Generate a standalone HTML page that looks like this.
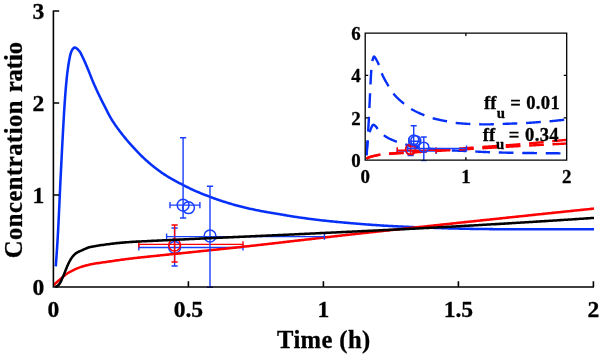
<!DOCTYPE html>
<html><head><meta charset="utf-8"><title>Chart</title>
<style>html,body{margin:0;padding:0;background:#fff;width:600px;height:356px;overflow:hidden}</style></head>
<body>
<svg width="600" height="356" viewBox="0 0 600 356" style="display:block;position:absolute;left:0;top:0;will-change:transform">
<rect width="600" height="356" fill="#fff"/>
<defs><clipPath id="mc"><rect x="53" y="5" width="545" height="283"/></clipPath><clipPath id="ic"><rect x="365" y="33" width="201.8" height="128.2"/></clipPath></defs>
<g clip-path="url(#mc)">
<path d="M55.80,266.30 L55.87,265.28 L55.95,264.26 L56.02,263.24 L56.09,262.22 L56.16,261.20 L56.24,260.18 L56.31,259.16 L56.38,258.14 L56.45,257.12 L56.52,256.10 L56.59,255.08 L56.66,254.06 L56.73,253.04 L56.80,252.02 L56.87,251.00 L56.94,249.98 L57.00,248.96 L57.07,247.94 L57.14,246.92 L57.20,245.90 L57.27,244.88 L57.33,243.86 L57.39,242.84 L57.46,241.82 L57.52,240.80 L57.58,239.78 L57.64,238.75 L57.70,237.73 L57.76,236.71 L57.82,235.69 L57.87,234.67 L57.93,233.65 L57.99,232.63 L58.04,231.61 L58.10,230.59 L58.15,229.57 L58.21,228.55 L58.26,227.53 L58.31,226.50 L58.36,225.48 L58.42,224.46 L58.47,223.44 L58.52,222.42 L58.57,221.40 L58.62,220.38 L58.67,219.36 L58.72,218.34 L58.77,217.31 L58.82,216.29 L58.86,215.27 L58.91,214.25 L58.96,213.23 L59.01,212.21 L59.06,211.19 L59.10,210.16 L59.15,209.14 L59.20,208.12 L59.24,207.10 L59.29,206.08 L59.34,205.06 L59.38,204.04 L59.43,203.01 L59.48,201.99 L59.52,200.97 L59.57,199.95 L59.62,198.93 L59.66,197.91 L59.71,196.89 L59.75,195.86 L59.80,194.84 L59.85,193.82 L59.89,192.80 L59.94,191.78 L59.99,190.76 L60.04,189.74 L60.08,188.71 L60.13,187.69 L60.18,186.67 L60.23,185.65 L60.28,184.63 L60.33,183.61 L60.37,182.59 L60.42,181.56 L60.47,180.54 L60.52,179.52 L60.57,178.50 L60.63,177.48 L60.68,176.46 L60.73,175.44 L60.78,174.42 L60.83,173.40 L60.88,172.37 L60.93,171.35 L60.98,170.33 L61.03,169.31 L61.09,168.29 L61.14,167.27 L61.19,166.25 L61.24,165.23 L61.29,164.20 L61.34,163.18 L61.39,162.16 L61.44,161.14 L61.50,160.12 L61.55,159.10 L61.60,158.08 L61.65,157.06 L61.70,156.04 L61.75,155.01 L61.81,153.99 L61.86,152.97 L61.91,151.95 L61.96,150.93 L62.02,149.91 L62.07,148.89 L62.12,147.87 L62.18,146.85 L62.23,145.82 L62.28,144.80 L62.34,143.78 L62.39,142.76 L62.44,141.74 L62.50,140.72 L62.55,139.70 L62.61,138.68 L62.66,137.66 L62.72,136.64 L62.77,135.61 L62.83,134.59 L62.89,133.57 L62.94,132.55 L63.00,131.53 L63.05,130.51 L63.11,129.49 L63.17,128.47 L63.23,127.45 L63.28,126.43 L63.34,125.41 L63.40,124.38 L63.45,123.36 L63.51,122.34 L63.57,121.32 L63.63,120.30 L63.69,119.28 L63.75,118.26 L63.80,117.24 L63.86,116.22 L63.92,115.20 L63.99,114.18 L64.05,113.16 L64.11,112.13 L64.17,111.11 L64.23,110.09 L64.30,109.07 L64.36,108.05 L64.43,107.03 L64.50,106.01 L64.56,104.99 L64.63,103.97 L64.70,102.95 L64.77,101.93 L64.84,100.91 L64.92,99.89 L64.99,98.87 L65.06,97.85 L65.13,96.83 L65.21,95.81 L65.28,94.79 L65.36,93.77 L65.44,92.75 L65.52,91.73 L65.60,90.71 L65.68,89.69 L65.76,88.67 L65.85,87.65 L65.94,86.64 L66.03,85.62 L66.12,84.60 L66.21,83.58 L66.31,82.56 L66.41,81.55 L66.51,80.53 L66.61,79.51 L66.72,78.50 L66.82,77.48 L66.93,76.46 L67.04,75.44 L67.16,74.43 L67.28,73.41 L67.40,72.39 L67.53,71.37 L67.66,70.36 L67.79,69.34 L67.93,68.33 L68.07,67.31 L68.22,66.30 L68.37,65.29 L68.53,64.28 L68.69,63.28 L68.86,62.27 L69.03,61.27 L69.21,60.26 L69.40,59.24 L69.59,58.20 L69.79,57.16 L70.01,56.13 L70.24,55.11 L70.50,54.11 L70.79,53.13 L71.11,52.20 L71.47,51.30 L71.89,50.40 L72.49,49.39 L73.21,48.44 L73.99,47.75 L74.76,47.50 L75.58,47.74 L76.49,48.28 L77.38,49.01 L78.20,49.79 L78.88,50.51 L79.48,51.27 L80.04,52.10 L80.56,52.97 L81.06,53.89 L81.53,54.84 L81.99,55.79 L82.44,56.74 L82.89,57.68 L83.34,58.60 L83.79,59.52 L84.22,60.44 L84.63,61.37 L85.05,62.31 L85.45,63.25 L85.85,64.19 L86.25,65.14 L86.64,66.08 L87.03,67.03 L87.43,67.97 L87.82,68.92 L88.21,69.86 L88.60,70.81 L88.98,71.76 L89.36,72.71 L89.73,73.66 L90.11,74.61 L90.48,75.56 L90.86,76.51 L91.24,77.46 L91.62,78.41 L92.00,79.36 L92.39,80.31 L92.78,81.25 L93.18,82.19 L93.59,83.13 L93.99,84.07 L94.40,85.00 L94.82,85.94 L95.23,86.87 L95.65,87.81 L96.07,88.74 L96.50,89.67 L96.92,90.60 L97.35,91.53 L97.79,92.45 L98.22,93.38 L98.66,94.30 L99.10,95.22 L99.54,96.14 L99.99,97.06 L100.44,97.98 L100.90,98.90 L101.35,99.81 L101.81,100.72 L102.28,101.64 L102.74,102.55 L103.20,103.46 L103.67,104.37 L104.13,105.28 L104.60,106.19 L105.06,107.10 L105.52,108.02 L105.98,108.94 L106.44,109.85 L106.90,110.77 L107.36,111.69 L107.82,112.60 L108.29,113.51 L108.77,114.41 L109.25,115.32 L109.74,116.21 L110.24,117.10 L110.75,117.98 L111.27,118.85 L111.80,119.72 L112.34,120.58 L112.89,121.44 L113.45,122.30 L114.02,123.15 L114.59,124.00 L115.17,124.85 L115.76,125.69 L116.35,126.52 L116.94,127.36 L117.55,128.19 L118.15,129.02 L118.76,129.84 L119.38,130.66 L119.99,131.48 L120.61,132.29 L121.23,133.11 L121.86,133.91 L122.48,134.72 L123.11,135.52 L123.75,136.32 L124.40,137.11 L125.04,137.90 L125.70,138.69 L126.36,139.47 L127.02,140.25 L127.69,141.03 L128.36,141.80 L129.04,142.57 L129.71,143.34 L130.39,144.10 L131.08,144.87 L131.76,145.63 L132.45,146.38 L133.13,147.14 L133.82,147.89 L134.52,148.64 L135.21,149.39 L135.91,150.14 L136.61,150.89 L137.31,151.63 L138.02,152.37 L138.73,153.11 L139.45,153.84 L140.17,154.57 L140.89,155.30 L141.62,156.02 L142.35,156.73 L143.08,157.44 L143.82,158.14 L144.57,158.84 L145.32,159.53 L146.07,160.22 L146.83,160.90 L147.60,161.58 L148.37,162.26 L149.14,162.93 L149.92,163.59 L150.70,164.25 L151.49,164.91 L152.28,165.56 L153.08,166.20 L153.88,166.84 L154.68,167.47 L155.48,168.10 L156.29,168.72 L157.11,169.33 L157.93,169.95 L158.75,170.55 L159.58,171.15 L160.42,171.75 L161.25,172.34 L162.10,172.93 L162.94,173.50 L163.79,174.07 L164.64,174.64 L165.50,175.19 L166.36,175.74 L167.23,176.28 L168.10,176.81 L168.98,177.33 L169.86,177.84 L170.75,178.35 L171.64,178.85 L172.54,179.35 L173.43,179.84 L174.33,180.33 L175.23,180.82 L176.13,181.31 L177.03,181.80 L177.93,182.29 L178.83,182.77 L179.73,183.26 L180.63,183.74 L181.54,184.21 L182.44,184.69 L183.35,185.16 L184.26,185.62 L185.17,186.09 L186.08,186.55 L187.00,187.01 L187.91,187.47 L188.83,187.92 L189.75,188.37 L190.67,188.82 L191.59,189.26 L192.51,189.69 L193.44,190.12 L194.37,190.54 L195.31,190.95 L196.25,191.36 L197.19,191.76 L198.13,192.16 L199.08,192.55 L200.02,192.94 L200.97,193.32 L201.92,193.71 L202.87,194.09 L203.82,194.46 L204.77,194.83 L205.73,195.19 L206.68,195.55 L207.64,195.92 L208.60,196.27 L209.56,196.63 L210.51,196.99 L211.47,197.35 L212.43,197.72 L213.38,198.08 L214.34,198.43 L215.30,198.79 L216.26,199.14 L217.22,199.49 L218.19,199.82 L219.15,200.15 L220.12,200.48 L221.10,200.79 L222.07,201.11 L223.04,201.42 L224.02,201.72 L225.00,202.02 L225.98,202.32 L226.95,202.62 L227.93,202.92 L228.91,203.22 L229.89,203.52 L230.86,203.82 L231.84,204.11 L232.82,204.40 L233.81,204.69 L234.79,204.97 L235.77,205.25 L236.76,205.52 L237.74,205.79 L238.73,206.06 L239.72,206.32 L240.71,206.58 L241.70,206.83 L242.69,207.08 L243.68,207.32 L244.68,207.56 L245.67,207.80 L246.67,208.03 L247.67,208.25 L248.67,208.47 L249.66,208.69 L250.66,208.91 L251.66,209.12 L252.66,209.33 L253.66,209.55 L254.67,209.76 L255.67,209.96 L256.67,210.17 L257.67,210.37 L258.67,210.57 L259.68,210.77 L260.68,210.96 L261.69,211.15 L262.69,211.33 L263.70,211.52 L264.70,211.70 L265.71,211.87 L266.72,212.05 L267.73,212.23 L268.73,212.40 L269.74,212.58 L270.75,212.75 L271.76,212.92 L272.76,213.09 L273.77,213.26 L274.78,213.43 L275.79,213.60 L276.80,213.77 L277.81,213.93 L278.81,214.10 L279.82,214.27 L280.83,214.44 L281.84,214.61 L282.85,214.78 L283.86,214.96 L284.86,215.13 L285.87,215.30 L286.88,215.47 L287.89,215.64 L288.90,215.81 L289.90,215.98 L290.91,216.15 L291.92,216.32 L292.93,216.48 L293.94,216.64 L294.95,216.79 L295.96,216.95 L296.97,217.10 L297.98,217.25 L299.00,217.39 L300.01,217.54 L301.02,217.68 L302.03,217.83 L303.05,217.97 L304.06,218.11 L305.07,218.25 L306.09,218.38 L307.10,218.52 L308.11,218.65 L309.13,218.79 L310.14,218.92 L311.15,219.05 L312.17,219.18 L313.18,219.31 L314.20,219.43 L315.21,219.56 L316.23,219.68 L317.24,219.81 L318.26,219.93 L319.27,220.05 L320.29,220.17 L321.30,220.29 L322.32,220.40 L323.34,220.52 L324.35,220.63 L325.37,220.74 L326.38,220.85 L327.40,220.96 L328.42,221.06 L329.44,221.17 L330.45,221.27 L331.47,221.38 L332.49,221.48 L333.50,221.58 L334.52,221.68 L335.54,221.78 L336.56,221.88 L337.58,221.97 L338.59,222.07 L339.61,222.16 L340.63,222.26 L341.65,222.35 L342.67,222.44 L343.68,222.53 L344.70,222.62 L345.72,222.71 L346.74,222.80 L347.76,222.89 L348.78,222.98 L349.80,223.06 L350.82,223.15 L351.83,223.24 L352.85,223.32 L353.87,223.41 L354.89,223.49 L355.91,223.58 L356.93,223.66 L357.95,223.75 L358.97,223.83 L359.99,223.91 L361.01,224.00 L362.02,224.08 L363.04,224.16 L364.06,224.25 L365.08,224.33 L366.10,224.41 L367.12,224.48 L368.14,224.56 L369.16,224.64 L370.18,224.71 L371.20,224.79 L372.22,224.86 L373.24,224.93 L374.26,225.00 L375.28,225.07 L376.30,225.14 L377.32,225.21 L378.34,225.28 L379.36,225.35 L380.38,225.41 L381.40,225.48 L382.42,225.54 L383.44,225.61 L384.46,225.67 L385.48,225.73 L386.50,225.79 L387.52,225.85 L388.54,225.90 L389.57,225.96 L390.59,226.02 L391.61,226.07 L392.63,226.12 L393.65,226.18 L394.67,226.23 L395.69,226.28 L396.71,226.34 L397.73,226.39 L398.76,226.44 L399.78,226.49 L400.80,226.54 L401.82,226.59 L402.84,226.64 L403.86,226.69 L404.88,226.74 L405.90,226.79 L406.93,226.84 L407.95,226.89 L408.97,226.94 L409.99,226.99 L411.01,227.03 L412.03,227.08 L413.05,227.12 L414.08,227.16 L415.10,227.20 L416.12,227.24 L417.14,227.28 L418.16,227.32 L419.18,227.35 L420.21,227.38 L421.23,227.42 L422.25,227.45 L423.27,227.48 L424.29,227.52 L425.32,227.55 L426.34,227.58 L427.36,227.61 L428.38,227.65 L429.40,227.68 L430.43,227.71 L431.45,227.75 L432.47,227.79 L433.49,227.82 L434.51,227.86 L435.53,227.90 L436.56,227.94 L437.58,227.98 L438.60,228.02 L439.62,228.06 L440.64,228.09 L441.67,228.13 L442.69,228.17 L443.71,228.21 L444.73,228.24 L445.75,228.27 L446.77,228.31 L447.80,228.34 L448.82,228.37 L449.84,228.40 L450.86,228.42 L451.88,228.45 L452.91,228.47 L453.93,228.50 L454.95,228.53 L455.97,228.55 L457.00,228.58 L458.02,228.60 L459.04,228.62 L460.06,228.65 L461.08,228.67 L462.11,228.69 L463.13,228.72 L464.15,228.74 L465.17,228.76 L466.20,228.78 L467.22,228.80 L468.24,228.82 L469.26,228.84 L470.28,228.86 L471.31,228.88 L472.33,228.89 L473.35,228.91 L474.37,228.93 L475.40,228.94 L476.42,228.96 L477.44,228.97 L478.46,228.98 L479.49,228.99 L480.51,229.01 L481.53,229.02 L482.55,229.03 L483.58,229.04 L484.60,229.05 L485.62,229.06 L486.64,229.07 L487.66,229.08 L488.69,229.10 L489.71,229.11 L490.73,229.12 L491.75,229.13 L492.78,229.14 L493.80,229.15 L494.82,229.16 L495.84,229.17 L496.87,229.18 L497.89,229.19 L498.91,229.20 L499.93,229.21 L500.96,229.21 L501.98,229.22 L503.00,229.23 L504.02,229.24 L505.05,229.24 L506.07,229.25 L507.09,229.26 L508.11,229.26 L509.14,229.27 L510.16,229.27 L511.18,229.28 L512.20,229.28 L513.23,229.29 L514.25,229.29 L515.27,229.29 L516.29,229.30 L517.32,229.30 L518.34,229.30 L519.36,229.30 L520.38,229.30 L521.41,229.30 L522.43,229.30 L523.45,229.30 L524.47,229.30 L525.50,229.30 L526.52,229.30 L527.54,229.30 L528.56,229.30 L529.58,229.30 L530.61,229.30 L531.63,229.30 L532.65,229.30 L533.67,229.30 L534.70,229.30 L535.72,229.30 L536.74,229.30 L537.76,229.30 L538.79,229.30 L539.81,229.30 L540.83,229.30 L541.85,229.30 L542.88,229.30 L543.90,229.30 L544.92,229.30 L545.94,229.30 L546.97,229.30 L547.99,229.30 L549.01,229.30 L550.03,229.30 L551.06,229.30 L552.08,229.30 L553.10,229.30 L554.12,229.30 L555.15,229.30 L556.17,229.30 L557.19,229.30 L558.21,229.30 L559.24,229.30 L560.26,229.30 L561.28,229.30 L562.30,229.30 L563.33,229.30 L564.35,229.30 L565.37,229.30 L566.39,229.30 L567.42,229.30 L568.44,229.30 L569.46,229.30 L570.48,229.30 L571.51,229.30 L572.53,229.30 L573.55,229.30 L574.57,229.30 L575.60,229.30 L576.62,229.30 L577.64,229.30 L578.66,229.30 L579.69,229.30 L580.71,229.30 L581.73,229.30 L582.75,229.30 L583.78,229.30 L584.80,229.30 L585.82,229.30 L586.84,229.30 L587.87,229.30 L588.89,229.30 L589.91,229.30 L590.93,229.30 L591.96,229.30 L592.98,229.30 L594.00,229.30" fill="none" stroke="#0630f8" stroke-width="2.55" stroke-linejoin="round"/>
<g stroke="#1a40ff" stroke-width="1.4" fill="none"><path d="M138.8,247.5 H243 M138.8,244.4 V250.6 M243,244.4 V250.6"/><path d="M174.6,228 V266 M171.5,228 H177.7 M171.5,266 H177.7"/><circle cx="174.6" cy="247.4" r="5.9" stroke-width="1.5"/></g>
<g stroke="#ff0000" stroke-width="1.4" fill="none"><path d="M138.8,244.4 H243 M138.8,241.3 V247.5 M243,241.3 V247.5"/><path d="M174.6,225 V262 M171.5,225 H177.7 M171.5,262 H177.7"/><circle cx="174.6" cy="245" r="5.9" stroke-width="1.5"/></g>
<path d="M53.30,285.50 L54.26,284.51 L55.25,283.56 L56.28,282.63 L57.32,281.73 L58.37,280.84 L59.42,279.94 L60.45,279.02 L61.48,278.11 L62.53,277.21 L63.59,276.33 L64.66,275.46 L65.75,274.60 L66.85,273.77 L67.99,273.01 L69.17,272.31 L70.39,271.66 L71.63,271.03 L72.86,270.42 L74.10,269.81 L75.34,269.21 L76.60,268.63 L77.86,268.09 L79.15,267.60 L80.45,267.13 L81.76,266.69 L83.07,266.28 L84.40,265.90 L85.73,265.55 L87.07,265.21 L88.41,264.90 L89.76,264.60 L91.10,264.32 L92.46,264.04 L93.81,263.79 L95.17,263.55 L96.53,263.33 L97.89,263.13 L99.26,262.93 L100.62,262.74 L101.99,262.55 L103.36,262.36 L104.72,262.17 L106.09,261.97 L107.45,261.77 L108.82,261.57 L110.18,261.37 L111.54,261.17 L112.91,260.96 L114.27,260.76 L115.64,260.57 L117.00,260.37 L118.37,260.18 L119.73,259.99 L121.10,259.81 L122.46,259.62 L123.83,259.44 L125.20,259.27 L126.57,259.09 L127.93,258.91 L129.30,258.74 L130.67,258.57 L132.04,258.41 L133.41,258.24 L134.78,258.08 L136.15,257.93 L137.52,257.77 L138.89,257.62 L140.26,257.48 L141.63,257.33 L143.00,257.19 L144.37,257.05 L145.74,256.91 L147.12,256.77 L148.49,256.63 L149.86,256.48 L151.23,256.34 L152.60,256.20 L153.97,256.05 L155.34,255.91 L156.72,255.77 L158.09,255.63 L159.46,255.48 L160.83,255.34 L162.20,255.20 L163.57,255.06 L164.94,254.92 L166.32,254.78 L167.69,254.64 L169.06,254.49 L170.43,254.35 L171.80,254.21 L173.17,254.07 L174.55,253.93 L175.92,253.79 L177.29,253.65 L178.66,253.51 L180.03,253.37 L181.40,253.23 L182.77,253.09 L184.15,252.94 L185.52,252.80 L186.89,252.66 L188.26,252.52 L189.63,252.38 L191.00,252.24 L192.37,252.09 L193.75,251.95 L195.12,251.81 L196.49,251.67 L197.86,251.52 L199.23,251.38 L200.60,251.24 L201.97,251.09 L203.35,250.95 L204.72,250.81 L206.09,250.66 L207.46,250.52 L208.83,250.38 L210.20,250.23 L211.57,250.09 L212.94,249.95 L214.32,249.80 L215.69,249.66 L217.06,249.52 L218.43,249.37 L219.80,249.23 L221.17,249.08 L222.54,248.94 L223.91,248.80 L225.29,248.65 L226.66,248.51 L228.03,248.36 L229.40,248.22 L230.77,248.07 L232.14,247.93 L233.51,247.78 L234.88,247.63 L236.25,247.49 L237.63,247.34 L239.00,247.19 L240.37,247.05 L241.74,246.90 L243.11,246.75 L244.48,246.60 L245.85,246.45 L247.22,246.30 L248.59,246.15 L249.96,246.00 L251.33,245.85 L252.70,245.70 L254.07,245.55 L255.44,245.40 L256.81,245.24 L258.18,245.09 L259.55,244.94 L260.92,244.78 L262.29,244.63 L263.66,244.47 L265.03,244.32 L266.40,244.16 L267.77,244.01 L269.14,243.85 L270.51,243.69 L271.88,243.54 L273.25,243.38 L274.62,243.22 L275.99,243.07 L277.36,242.91 L278.73,242.75 L280.10,242.59 L281.47,242.43 L282.84,242.28 L284.21,242.12 L285.58,241.96 L286.95,241.80 L288.32,241.64 L289.69,241.49 L291.06,241.33 L292.43,241.17 L293.80,241.01 L295.17,240.85 L296.54,240.70 L297.91,240.54 L299.28,240.38 L300.65,240.23 L302.02,240.07 L303.39,239.91 L304.76,239.75 L306.13,239.60 L307.50,239.44 L308.87,239.28 L310.24,239.12 L311.60,238.96 L312.97,238.80 L314.34,238.64 L315.71,238.49 L317.08,238.33 L318.45,238.17 L319.82,238.01 L321.19,237.85 L322.56,237.69 L323.93,237.53 L325.30,237.38 L326.67,237.22 L328.04,237.06 L329.41,236.90 L330.78,236.75 L332.15,236.59 L333.52,236.43 L334.89,236.28 L336.26,236.12 L337.63,235.97 L339.00,235.81 L340.37,235.66 L341.74,235.50 L343.11,235.35 L344.48,235.20 L345.85,235.05 L347.22,234.89 L348.59,234.74 L349.96,234.59 L351.33,234.44 L352.70,234.28 L354.07,234.13 L355.44,233.98 L356.81,233.83 L358.18,233.68 L359.55,233.53 L360.92,233.37 L362.29,233.22 L363.67,233.07 L365.04,232.92 L366.41,232.77 L367.78,232.62 L369.15,232.47 L370.52,232.32 L371.89,232.17 L373.26,232.02 L374.63,231.87 L376.00,231.72 L377.37,231.57 L378.74,231.42 L380.11,231.28 L381.48,231.13 L382.85,230.98 L384.22,230.83 L385.60,230.68 L386.97,230.53 L388.34,230.38 L389.71,230.23 L391.08,230.09 L392.45,229.94 L393.82,229.79 L395.19,229.64 L396.56,229.49 L397.93,229.35 L399.30,229.20 L400.67,229.05 L402.04,228.90 L403.42,228.76 L404.79,228.61 L406.16,228.46 L407.53,228.31 L408.90,228.17 L410.27,228.02 L411.64,227.87 L413.01,227.72 L414.38,227.58 L415.75,227.43 L417.12,227.28 L418.50,227.13 L419.87,226.99 L421.24,226.84 L422.61,226.69 L423.98,226.55 L425.35,226.40 L426.72,226.25 L428.09,226.10 L429.46,225.96 L430.83,225.81 L432.20,225.66 L433.57,225.52 L434.95,225.37 L436.32,225.22 L437.69,225.08 L439.06,224.93 L440.43,224.78 L441.80,224.63 L443.17,224.49 L444.54,224.34 L445.91,224.19 L447.28,224.05 L448.65,223.90 L450.03,223.75 L451.40,223.61 L452.77,223.46 L454.14,223.31 L455.51,223.17 L456.88,223.02 L458.25,222.88 L459.62,222.73 L460.99,222.58 L462.36,222.44 L463.74,222.29 L465.11,222.14 L466.48,222.00 L467.85,221.85 L469.22,221.71 L470.59,221.56 L471.96,221.41 L473.33,221.27 L474.70,221.12 L476.07,220.98 L477.45,220.83 L478.82,220.68 L480.19,220.54 L481.56,220.39 L482.93,220.25 L484.30,220.10 L485.67,219.96 L487.04,219.81 L488.41,219.66 L489.78,219.52 L491.16,219.37 L492.53,219.23 L493.90,219.08 L495.27,218.94 L496.64,218.79 L498.01,218.65 L499.38,218.50 L500.75,218.36 L502.12,218.21 L503.50,218.07 L504.87,217.92 L506.24,217.78 L507.61,217.63 L508.98,217.49 L510.35,217.34 L511.72,217.20 L513.09,217.05 L514.46,216.91 L515.84,216.76 L517.21,216.62 L518.58,216.47 L519.95,216.33 L521.32,216.18 L522.69,216.04 L524.06,215.90 L525.43,215.75 L526.81,215.61 L528.18,215.46 L529.55,215.32 L530.92,215.17 L532.29,215.03 L533.66,214.89 L535.03,214.74 L536.40,214.60 L537.77,214.45 L539.15,214.31 L540.52,214.17 L541.89,214.02 L543.26,213.88 L544.63,213.74 L546.00,213.59 L547.37,213.45 L548.74,213.31 L550.12,213.16 L551.49,213.02 L552.86,212.88 L554.23,212.73 L555.60,212.59 L556.97,212.45 L558.34,212.30 L559.72,212.16 L561.09,212.02 L562.46,211.87 L563.83,211.73 L565.20,211.59 L566.57,211.44 L567.94,211.30 L569.31,211.16 L570.69,211.02 L572.06,210.87 L573.43,210.73 L574.80,210.59 L576.17,210.45 L577.54,210.30 L578.91,210.16 L580.29,210.02 L581.66,209.88 L583.03,209.74 L584.40,209.59 L585.77,209.45 L587.14,209.31 L588.51,209.17 L589.89,209.03 L591.26,208.88 L592.63,208.74 L594.00,208.60" fill="none" stroke="#ff0000" stroke-width="2.55" stroke-linejoin="round"/>
<g stroke="#1a40ff" stroke-width="1.4" fill="none"><path d="M170,205.1 H199.9 M170,202.0 V208.2 M199.9,202.0 V208.2"/><path d="M183.1,137.8 V218 M180.0,137.8 H186.2 M180.0,218 H186.2"/><circle cx="183.1" cy="205.1" r="5.9" stroke-width="1.5"/></g>
<g stroke="#1a40ff" stroke-width="1.4" fill="none"><circle cx="188.5" cy="207.7" r="5.9" stroke-width="1.5"/></g>
<g stroke="#1a40ff" stroke-width="1.4" fill="none"><path d="M166.6,236.6 H324.4 M166.6,233.5 V239.7 M324.4,233.5 V239.7"/><path d="M210,186.2 V287.3 M206.9,186.2 H213.1 M206.9,287.3 H213.1"/><circle cx="210" cy="236.0" r="5.9" stroke-width="1.5"/></g>
<path d="M55.30,287.00 L56.63,286.53 L57.77,285.76 L58.79,284.73 L59.66,283.62 L60.38,282.46 L61.02,281.20 L61.61,279.90 L62.18,278.59 L62.75,277.31 L63.30,276.01 L63.83,274.71 L64.35,273.41 L64.87,272.10 L65.41,270.80 L65.93,269.50 L66.46,268.19 L66.99,266.89 L67.54,265.60 L68.13,264.32 L68.73,263.05 L69.36,261.77 L70.01,260.52 L70.71,259.31 L71.47,258.15 L72.30,257.01 L73.21,255.89 L74.18,254.83 L75.20,253.88 L76.27,253.07 L77.45,252.36 L78.70,251.72 L80.01,251.12 L81.33,250.55 L82.63,249.99 L83.91,249.41 L85.21,248.83 L86.51,248.28 L87.82,247.77 L89.15,247.33 L90.49,246.98 L91.85,246.68 L93.21,246.40 L94.59,246.14 L95.98,245.91 L97.37,245.69 L98.77,245.48 L100.17,245.28 L101.57,245.09 L102.97,244.90 L104.37,244.71 L105.76,244.52 L107.15,244.33 L108.54,244.15 L109.94,243.97 L111.33,243.79 L112.73,243.62 L114.12,243.45 L115.52,243.29 L116.92,243.14 L118.32,243.00 L119.71,242.86 L121.11,242.74 L122.51,242.62 L123.91,242.50 L125.31,242.39 L126.71,242.28 L128.12,242.18 L129.52,242.08 L130.92,241.99 L132.32,241.89 L133.73,241.81 L135.13,241.72 L136.53,241.64 L137.93,241.56 L139.34,241.49 L140.74,241.42 L142.14,241.35 L143.55,241.29 L144.95,241.22 L146.36,241.16 L147.76,241.09 L149.16,241.03 L150.57,240.96 L151.97,240.89 L153.37,240.82 L154.78,240.76 L156.18,240.69 L157.59,240.62 L158.99,240.55 L160.39,240.49 L161.80,240.42 L163.20,240.35 L164.60,240.28 L166.01,240.22 L167.41,240.15 L168.81,240.08 L170.22,240.02 L171.62,239.95 L173.02,239.89 L174.43,239.82 L175.83,239.75 L177.24,239.69 L178.64,239.62 L180.04,239.55 L181.45,239.49 L182.85,239.42 L184.25,239.36 L185.66,239.29 L187.06,239.23 L188.46,239.16 L189.87,239.10 L191.27,239.03 L192.68,238.97 L194.08,238.90 L195.48,238.84 L196.89,238.77 L198.29,238.71 L199.69,238.64 L201.10,238.58 L202.50,238.51 L203.91,238.45 L205.31,238.39 L206.71,238.32 L208.12,238.26 L209.52,238.19 L210.92,238.13 L212.33,238.07 L213.73,238.01 L215.14,237.94 L216.54,237.88 L217.94,237.82 L219.35,237.76 L220.75,237.69 L222.15,237.63 L223.56,237.57 L224.96,237.51 L226.37,237.44 L227.77,237.38 L229.17,237.32 L230.58,237.26 L231.98,237.20 L233.39,237.14 L234.79,237.07 L236.19,237.01 L237.60,236.95 L239.00,236.89 L240.40,236.83 L241.81,236.76 L243.21,236.70 L244.62,236.64 L246.02,236.58 L247.42,236.52 L248.83,236.45 L250.23,236.39 L251.64,236.33 L253.04,236.26 L254.44,236.20 L255.85,236.14 L257.25,236.08 L258.65,236.01 L260.06,235.95 L261.46,235.89 L262.87,235.82 L264.27,235.76 L265.67,235.70 L267.08,235.63 L268.48,235.57 L269.88,235.51 L271.29,235.44 L272.69,235.38 L274.10,235.31 L275.50,235.25 L276.90,235.18 L278.31,235.12 L279.71,235.05 L281.11,234.99 L282.52,234.92 L283.92,234.86 L285.32,234.79 L286.73,234.73 L288.13,234.66 L289.54,234.60 L290.94,234.53 L292.34,234.46 L293.75,234.40 L295.15,234.33 L296.55,234.27 L297.96,234.20 L299.36,234.13 L300.76,234.07 L302.17,234.00 L303.57,233.94 L304.98,233.87 L306.38,233.80 L307.78,233.74 L309.19,233.67 L310.59,233.60 L311.99,233.54 L313.40,233.47 L314.80,233.40 L316.20,233.34 L317.61,233.27 L319.01,233.20 L320.42,233.14 L321.82,233.07 L323.22,233.00 L324.63,232.94 L326.03,232.87 L327.43,232.80 L328.84,232.73 L330.24,232.67 L331.64,232.60 L333.05,232.53 L334.45,232.47 L335.86,232.40 L337.26,232.33 L338.66,232.26 L340.07,232.20 L341.47,232.13 L342.87,232.06 L344.28,232.00 L345.68,231.93 L347.08,231.86 L348.49,231.79 L349.89,231.73 L351.29,231.66 L352.70,231.59 L354.10,231.53 L355.51,231.46 L356.91,231.40 L358.31,231.33 L359.72,231.26 L361.12,231.20 L362.52,231.13 L363.93,231.06 L365.33,231.00 L366.73,230.93 L368.14,230.86 L369.54,230.80 L370.95,230.73 L372.35,230.66 L373.75,230.60 L375.16,230.53 L376.56,230.47 L377.96,230.40 L379.37,230.33 L380.77,230.26 L382.17,230.20 L383.58,230.13 L384.98,230.06 L386.39,230.00 L387.79,229.93 L389.19,229.86 L390.60,229.79 L392.00,229.72 L393.40,229.66 L394.81,229.59 L396.21,229.52 L397.61,229.45 L399.02,229.38 L400.42,229.31 L401.82,229.24 L403.23,229.17 L404.63,229.11 L406.04,229.04 L407.44,228.97 L408.84,228.89 L410.25,228.82 L411.65,228.75 L413.05,228.68 L414.46,228.61 L415.86,228.54 L417.26,228.47 L418.67,228.40 L420.07,228.32 L421.47,228.25 L422.88,228.18 L424.28,228.10 L425.68,228.03 L427.08,227.96 L428.49,227.88 L429.89,227.81 L431.29,227.73 L432.70,227.66 L434.10,227.58 L435.50,227.50 L436.91,227.43 L438.31,227.35 L439.71,227.28 L441.12,227.20 L442.52,227.12 L443.92,227.05 L445.32,226.97 L446.73,226.89 L448.13,226.82 L449.53,226.74 L450.94,226.66 L452.34,226.59 L453.74,226.51 L455.15,226.43 L456.55,226.35 L457.95,226.27 L459.36,226.20 L460.76,226.12 L462.16,226.04 L463.56,225.96 L464.97,225.88 L466.37,225.80 L467.77,225.72 L469.18,225.64 L470.58,225.56 L471.98,225.49 L473.38,225.41 L474.79,225.33 L476.19,225.25 L477.59,225.16 L479.00,225.08 L480.40,225.00 L481.80,224.92 L483.20,224.84 L484.61,224.76 L486.01,224.68 L487.41,224.60 L488.82,224.52 L490.22,224.43 L491.62,224.35 L493.02,224.27 L494.43,224.19 L495.83,224.11 L497.23,224.02 L498.64,223.94 L500.04,223.86 L501.44,223.77 L502.84,223.69 L504.25,223.61 L505.65,223.52 L507.05,223.44 L508.45,223.36 L509.86,223.27 L511.26,223.19 L512.66,223.10 L514.06,223.02 L515.47,222.93 L516.87,222.85 L518.27,222.76 L519.68,222.68 L521.08,222.59 L522.48,222.51 L523.88,222.42 L525.29,222.34 L526.69,222.25 L528.09,222.16 L529.49,222.08 L530.90,221.99 L532.30,221.90 L533.70,221.82 L535.10,221.73 L536.51,221.64 L537.91,221.55 L539.31,221.47 L540.71,221.38 L542.12,221.29 L543.52,221.20 L544.92,221.11 L546.32,221.02 L547.73,220.93 L549.13,220.85 L550.53,220.76 L551.93,220.67 L553.34,220.58 L554.74,220.49 L556.14,220.40 L557.54,220.31 L558.94,220.22 L560.35,220.13 L561.75,220.04 L563.15,219.95 L564.55,219.85 L565.96,219.76 L567.36,219.67 L568.76,219.58 L570.16,219.49 L571.57,219.40 L572.97,219.30 L574.37,219.21 L575.77,219.12 L577.17,219.03 L578.58,218.93 L579.98,218.84 L581.38,218.75 L582.78,218.65 L584.19,218.56 L585.59,218.47 L586.99,218.37 L588.39,218.28 L589.79,218.18 L591.20,218.09 L592.60,217.99 L594.00,217.90" fill="none" stroke="#000" stroke-width="2.55" stroke-linejoin="round"/>
</g>
<path d="M53.4,10.4 V287 H594 M53.4,287 v-5.8 M188.4,287 v-5.8 M323.4,287 v-5.8 M458.4,287 v-5.8 M593.4,287 v-5.8 M53.4,287 h5.8 M53.4,195 h5.8 M53.4,103 h5.8 M53.4,11 h5.8" fill="none" stroke="#000" stroke-width="1.6"/>
<text x="53.4" y="317.4" font-size="23.6" text-anchor="middle" font-family="Liberation Serif, serif" font-weight="bold" fill="#000" stroke="#000" stroke-width="0.3">0</text>
<text x="188.4" y="317.4" font-size="23.6" text-anchor="middle" font-family="Liberation Serif, serif" font-weight="bold" fill="#000" stroke="#000" stroke-width="0.3">0.5</text>
<text x="323.4" y="317.4" font-size="23.6" text-anchor="middle" font-family="Liberation Serif, serif" font-weight="bold" fill="#000" stroke="#000" stroke-width="0.3">1</text>
<text x="458.4" y="317.4" font-size="23.6" text-anchor="middle" font-family="Liberation Serif, serif" font-weight="bold" fill="#000" stroke="#000" stroke-width="0.3">1.5</text>
<text x="593.4" y="317.4" font-size="23.6" text-anchor="middle" font-family="Liberation Serif, serif" font-weight="bold" fill="#000" stroke="#000" stroke-width="0.3">2</text>
<text x="44.4" y="294.9" font-size="23.6" text-anchor="end" font-family="Liberation Serif, serif" font-weight="bold" fill="#000" stroke="#000" stroke-width="0.3">0</text>
<text x="44.4" y="202.9" font-size="23.6" text-anchor="end" font-family="Liberation Serif, serif" font-weight="bold" fill="#000" stroke="#000" stroke-width="0.3">1</text>
<text x="44.4" y="110.9" font-size="23.6" text-anchor="end" font-family="Liberation Serif, serif" font-weight="bold" fill="#000" stroke="#000" stroke-width="0.3">2</text>
<text x="44.4" y="18.9" font-size="23.6" text-anchor="end" font-family="Liberation Serif, serif" font-weight="bold" fill="#000" stroke="#000" stroke-width="0.3">3</text>
<text x="323.8" y="347.8" font-size="24.6" letter-spacing="0.38" text-anchor="middle" font-family="Liberation Serif, serif" font-weight="bold" fill="#000" stroke="#000" stroke-width="0.3">Time (h)</text>
<text transform="translate(21.5,258.2) rotate(-90)" font-size="24.6" letter-spacing="0.5" text-anchor="start" font-family="Liberation Serif, serif" font-weight="bold" fill="#000" stroke="#000" stroke-width="0.3">Concentration</text>
<text transform="translate(21.5,92.2) rotate(-90)" font-size="24.6" letter-spacing="-0.1" text-anchor="start" font-family="Liberation Serif, serif" font-weight="bold" fill="#000" stroke="#000" stroke-width="0.3">ratio</text>
<g clip-path="url(#ic)">
<path d="M366.40,159.00 L366.44,158.45 L366.47,157.91 L366.51,157.36 L366.54,156.82 L366.58,156.27 L366.61,155.73 L366.65,155.18 L366.68,154.64 L366.72,154.09 L366.75,153.55 L366.79,153.00 L366.82,152.46 L366.86,151.91 L366.89,151.37 L366.93,150.82 L366.96,150.27 L366.99,149.73 L367.03,149.18 L367.06,148.64 L367.10,148.09 L367.13,147.55 L367.17,147.00 L367.20,146.46 L367.23,145.91 L367.27,145.37 L367.30,144.82 L367.34,144.28 L367.37,143.73 L367.40,143.18 L367.44,142.64 L367.47,142.09 L367.51,141.55 L367.54,141.00 L367.57,140.46 L367.61,139.91 L367.64,139.37 L367.67,138.82 L367.71,138.28 L367.74,137.73 L367.77,137.18 L367.81,136.64 L367.84,136.09 L367.87,135.55 L367.91,135.00 L367.94,134.46 L367.97,133.91 L368.01,133.37 L368.04,132.82 L368.07,132.28 L368.11,131.73 L368.14,131.18 L368.17,130.64 L368.21,130.09 L368.24,129.55 L368.27,129.00 L368.31,128.46 L368.34,127.91 L368.37,127.37 L368.40,126.82 L368.43,126.27 L368.47,125.73 L368.50,125.18 L368.53,124.64 L368.56,124.09 L368.59,123.55 L368.62,123.00 L368.66,122.46 L368.69,121.91 L368.72,121.36 L368.75,120.82 L368.78,120.27 L368.81,119.73 L368.84,119.18 L368.87,118.64 L368.90,118.09 L368.92,117.55 L368.95,117.00 L368.98,116.45 L369.01,115.91 L369.04,115.36 L369.06,114.82 L369.09,114.27 L369.12,113.73 L369.14,113.18 L369.17,112.63 L369.20,112.09 L369.22,111.54 L369.25,111.00 L369.27,110.45 L369.30,109.90 L369.33,109.36 L369.35,108.81 L369.38,108.27 L369.40,107.72 L369.43,107.17 L369.45,106.63 L369.48,106.08 L369.50,105.54 L369.53,104.99 L369.55,104.45 L369.58,103.90 L369.60,103.35 L369.63,102.81 L369.65,102.26 L369.68,101.72 L369.70,101.17 L369.73,100.62 L369.76,100.08 L369.78,99.53 L369.81,98.99 L369.83,98.44 L369.86,97.89 L369.88,97.35 L369.91,96.80 L369.94,96.26 L369.96,95.71 L369.99,95.17 L370.02,94.62 L370.05,94.07 L370.07,93.53 L370.10,92.98 L370.12,92.44 L370.15,91.89 L370.17,91.34 L370.20,90.80 L370.22,90.25 L370.25,89.71 L370.27,89.16 L370.30,88.61 L370.32,88.07 L370.35,87.52 L370.37,86.97 L370.40,86.43 L370.42,85.88 L370.45,85.34 L370.47,84.79 L370.50,84.24 L370.52,83.70 L370.55,83.15 L370.57,82.61 L370.60,82.06 L370.63,81.51 L370.66,80.97 L370.68,80.42 L370.71,79.88 L370.74,79.33 L370.77,78.79 L370.80,78.24 L370.83,77.69 L370.86,77.15 L370.89,76.60 L370.93,76.06 L370.96,75.51 L371.00,74.97 L371.03,74.42 L371.07,73.88 L371.10,73.33 L371.14,72.79 L371.18,72.24 L371.22,71.70 L371.26,71.15 L371.30,70.61 L371.34,70.06 L371.39,69.51 L371.43,68.96 L371.48,68.41 L371.52,67.86 L371.57,67.31 L371.62,66.76 L371.68,66.21 L371.73,65.67 L371.79,65.12 L371.86,64.58 L371.93,64.04 L372.00,63.50 L372.07,62.96 L372.16,62.43 L372.24,61.89 L372.33,61.37 L372.43,60.84 L372.56,60.24 L372.71,59.58 L372.89,58.90 L373.09,58.24 L373.31,57.65 L373.54,57.15 L373.78,56.79 L374.02,56.61 L374.27,56.65 L374.57,56.89 L374.89,57.28 L375.22,57.78 L375.57,58.35 L375.91,58.94 L376.23,59.52 L376.51,60.03 L376.78,60.50 L377.05,60.97 L377.31,61.45 L377.56,61.94 L377.81,62.43 L378.05,62.92 L378.28,63.42 L378.51,63.92 L378.74,64.42 L378.95,64.92 L379.17,65.43 L379.37,65.93 L379.58,66.44 L379.77,66.95 L379.95,67.46 L380.13,67.98 L380.29,68.50 L380.46,69.02 L380.61,69.55 L380.77,70.08 L380.93,70.60 L381.08,71.13 L381.25,71.65 L381.41,72.17 L381.59,72.69 L381.77,73.20 L381.96,73.71 L382.17,74.21 L382.38,74.71 L382.59,75.20 L382.81,75.70 L383.04,76.19 L383.28,76.69 L383.52,77.18 L383.76,77.67 L384.01,78.15 L384.26,78.64 L384.52,79.12 L384.78,79.61 L385.04,80.09 L385.31,80.57 L385.58,81.05 L385.85,81.53 L386.12,82.00 L386.40,82.48 L386.68,82.95 L386.96,83.43 L387.24,83.90 L387.52,84.37 L387.80,84.84 L388.08,85.31 L388.36,85.78 L388.65,86.24 L388.93,86.71 L389.21,87.18 L389.49,87.65 L389.78,88.12 L390.07,88.59 L390.35,89.06 L390.65,89.52 L390.94,89.99 L391.24,90.45 L391.54,90.91 L391.85,91.37 L392.16,91.82 L392.47,92.27 L392.79,92.71 L393.11,93.15 L393.44,93.58 L393.78,94.00 L394.12,94.42 L394.46,94.83 L394.81,95.23 L395.17,95.64 L395.54,96.04 L395.91,96.43 L396.29,96.83 L396.67,97.22 L397.05,97.60 L397.44,97.99 L397.84,98.37 L398.24,98.75 L398.64,99.12 L399.05,99.49 L399.46,99.86 L399.87,100.23 L400.28,100.60 L400.70,100.96 L401.12,101.32 L401.54,101.68 L401.96,102.03 L402.38,102.38 L402.81,102.73 L403.23,103.08 L403.65,103.43 L404.08,103.78 L404.50,104.12 L404.92,104.46 L405.35,104.80 L405.78,105.14 L406.21,105.48 L406.64,105.82 L407.08,106.15 L407.52,106.48 L407.96,106.81 L408.40,107.13 L408.85,107.45 L409.30,107.76 L409.76,108.07 L410.21,108.37 L410.67,108.66 L411.13,108.94 L411.60,109.22 L412.07,109.49 L412.54,109.75 L413.01,110.02 L413.49,110.28 L413.97,110.53 L414.45,110.79 L414.94,111.04 L415.42,111.29 L415.91,111.53 L416.40,111.77 L416.90,112.01 L417.39,112.25 L417.89,112.48 L418.39,112.72 L418.89,112.94 L419.39,113.17 L419.89,113.39 L420.40,113.61 L420.90,113.83 L421.41,114.05 L421.91,114.26 L422.42,114.47 L422.92,114.68 L423.43,114.89 L423.94,115.10 L424.44,115.30 L424.95,115.50 L425.46,115.70 L425.97,115.90 L426.48,116.10 L426.99,116.29 L427.50,116.49 L428.01,116.68 L428.53,116.86 L429.04,117.05 L429.56,117.23 L430.08,117.41 L430.60,117.58 L431.12,117.74 L431.64,117.91 L432.16,118.06 L432.69,118.21 L433.21,118.36 L433.74,118.50 L434.26,118.64 L434.79,118.77 L435.32,118.90 L435.85,119.03 L436.38,119.16 L436.91,119.28 L437.45,119.40 L437.98,119.52 L438.51,119.64 L439.05,119.76 L439.58,119.87 L440.12,119.99 L440.65,120.10 L441.19,120.21 L441.73,120.32 L442.26,120.42 L442.80,120.53 L443.34,120.64 L443.88,120.74 L444.41,120.85 L444.95,120.95 L445.49,121.05 L446.03,121.16 L446.56,121.26 L447.10,121.36 L447.64,121.47 L448.17,121.57 L448.71,121.68 L449.25,121.79 L449.78,121.90 L450.32,122.01 L450.86,122.12 L451.39,122.22 L451.93,122.33 L452.47,122.43 L453.01,122.53 L453.55,122.62 L454.08,122.70 L454.62,122.78 L455.16,122.85 L455.71,122.91 L456.25,122.97 L456.79,123.03 L457.33,123.08 L457.87,123.13 L458.42,123.19 L458.96,123.24 L459.50,123.28 L460.05,123.33 L460.59,123.38 L461.14,123.42 L461.68,123.47 L462.23,123.51 L462.77,123.55 L463.32,123.59 L463.87,123.63 L464.41,123.67 L464.96,123.70 L465.51,123.74 L466.05,123.77 L466.60,123.80 L467.14,123.83 L467.69,123.86 L468.24,123.89 L468.78,123.91 L469.33,123.94 L469.88,123.96 L470.42,123.99 L470.97,124.01 L471.51,124.03 L472.06,124.05 L472.60,124.07 L473.15,124.09 L473.70,124.11 L474.24,124.13 L474.79,124.15 L475.34,124.17 L475.88,124.19 L476.43,124.21 L476.97,124.23 L477.52,124.25 L478.07,124.26 L478.61,124.28 L479.16,124.30 L479.71,124.31 L480.25,124.32 L480.80,124.34 L481.35,124.35 L481.89,124.36 L482.44,124.37 L482.99,124.38 L483.53,124.38 L484.08,124.39 L484.62,124.40 L485.17,124.40 L485.72,124.40 L486.26,124.40 L486.81,124.40 L487.36,124.39 L487.90,124.39 L488.45,124.38 L488.99,124.37 L489.54,124.36 L490.09,124.35 L490.63,124.34 L491.18,124.32 L491.73,124.31 L492.27,124.29 L492.82,124.27 L493.36,124.25 L493.91,124.24 L494.46,124.22 L495.00,124.20 L495.55,124.17 L496.10,124.15 L496.64,124.13 L497.19,124.11 L497.73,124.09 L498.28,124.07 L498.83,124.05 L499.37,124.02 L499.92,124.00 L500.47,123.98 L501.01,123.96 L501.56,123.94 L502.10,123.92 L502.65,123.90 L503.20,123.89 L503.74,123.87 L504.29,123.85 L504.83,123.83 L505.38,123.82 L505.93,123.80 L506.47,123.78 L507.02,123.76 L507.57,123.74 L508.11,123.73 L508.66,123.71 L509.20,123.69 L509.75,123.67 L510.30,123.65 L510.84,123.63 L511.39,123.61 L511.93,123.59 L512.48,123.57 L513.03,123.55 L513.57,123.53 L514.12,123.51 L514.67,123.49 L515.21,123.47 L515.76,123.45 L516.30,123.43 L516.85,123.41 L517.40,123.39 L517.94,123.37 L518.49,123.35 L519.03,123.32 L519.58,123.30 L520.13,123.28 L520.67,123.26 L521.22,123.23 L521.76,123.21 L522.31,123.19 L522.86,123.16 L523.40,123.14 L523.95,123.11 L524.49,123.09 L525.04,123.06 L525.58,123.03 L526.13,123.00 L526.68,122.97 L527.22,122.94 L527.77,122.91 L528.31,122.88 L528.86,122.84 L529.40,122.81 L529.95,122.77 L530.49,122.73 L531.04,122.70 L531.58,122.66 L532.13,122.62 L532.67,122.58 L533.22,122.54 L533.76,122.50 L534.31,122.46 L534.85,122.42 L535.40,122.37 L535.94,122.33 L536.49,122.29 L537.03,122.25 L537.58,122.21 L538.12,122.16 L538.67,122.12 L539.21,122.08 L539.76,122.04 L540.30,122.00 L540.85,121.96 L541.39,121.92 L541.94,121.88 L542.48,121.84 L543.03,121.80 L543.57,121.76 L544.12,121.72 L544.66,121.68 L545.21,121.64 L545.75,121.60 L546.30,121.55 L546.84,121.51 L547.39,121.47 L547.93,121.42 L548.48,121.38 L549.02,121.33 L549.57,121.29 L550.11,121.24 L550.65,121.19 L551.20,121.14 L551.74,121.09 L552.29,121.04 L552.83,120.98 L553.37,120.93 L553.92,120.88 L554.46,120.82 L555.01,120.77 L555.55,120.71 L556.09,120.65 L556.64,120.60 L557.18,120.54 L557.72,120.48 L558.27,120.42 L558.81,120.37 L559.35,120.31 L559.90,120.25 L560.44,120.19 L560.98,120.13 L561.53,120.07 L562.07,120.01 L562.61,119.95 L563.16,119.89 L563.70,119.83 L564.24,119.77 L564.79,119.71 L565.33,119.65 L565.87,119.59 L566.41,119.53 L566.96,119.46 L567.50,119.40" fill="none" stroke="#0630f8" stroke-width="2.4" stroke-dasharray="14.7 8.8" stroke-dashoffset="19.4"/>
<path d="M366.30,159.00 L366.31,158.60 L366.33,158.21 L366.34,157.81 L366.36,157.42 L366.38,157.02 L366.40,156.63 L366.42,156.23 L366.44,155.84 L366.46,155.45 L366.48,155.05 L366.51,154.66 L366.53,154.26 L366.56,153.87 L366.58,153.47 L366.61,153.08 L366.64,152.69 L366.67,152.29 L366.70,151.90 L366.73,151.51 L366.76,151.11 L366.79,150.72 L366.82,150.32 L366.85,149.93 L366.88,149.54 L366.92,149.15 L366.95,148.75 L366.99,148.36 L367.02,147.97 L367.06,147.57 L367.09,147.18 L367.13,146.79 L367.16,146.40 L367.20,146.00 L367.24,145.61 L367.27,145.22 L367.31,144.82 L367.35,144.43 L367.39,144.04 L367.43,143.64 L367.47,143.25 L367.52,142.85 L367.56,142.46 L367.61,142.06 L367.65,141.67 L367.70,141.27 L367.75,140.88 L367.80,140.48 L367.85,140.09 L367.90,139.70 L367.96,139.30 L368.02,138.91 L368.07,138.52 L368.13,138.13 L368.20,137.74 L368.26,137.35 L368.33,136.96 L368.39,136.58 L368.46,136.19 L368.54,135.81 L368.61,135.42 L368.69,135.04 L368.77,134.66 L368.85,134.28 L368.94,133.90 L369.04,133.52 L369.15,133.14 L369.27,132.76 L369.40,132.39 L369.53,132.01 L369.67,131.64 L369.81,131.26 L369.96,130.89 L370.12,130.53 L370.27,130.16 L370.43,129.80 L370.60,129.44 L370.76,129.09 L370.93,128.72 L371.10,128.32 L371.27,127.89 L371.46,127.44 L371.65,127.00 L371.85,126.56 L372.05,126.14 L372.26,125.76 L372.49,125.43 L372.72,125.15 L372.96,124.95 L373.21,124.83 L373.47,124.80 L373.77,124.88 L374.11,125.05 L374.47,125.28 L374.83,125.55 L375.18,125.83 L375.50,126.11 L375.77,126.37 L376.03,126.65 L376.27,126.96 L376.50,127.28 L376.72,127.62 L376.93,127.96 L377.15,128.30 L377.38,128.63 L377.61,128.96 L377.85,129.27 L378.11,129.57 L378.37,129.86 L378.63,130.16 L378.90,130.45 L379.17,130.74 L379.44,131.02 L379.71,131.31 L379.99,131.59 L380.27,131.87 L380.55,132.15 L380.83,132.43 L381.11,132.71 L381.39,132.99 L381.67,133.27 L381.95,133.55 L382.23,133.83 L382.52,134.10 L382.81,134.37 L383.10,134.64 L383.40,134.90 L383.70,135.14 L384.01,135.38 L384.32,135.62 L384.64,135.85 L384.97,136.07 L385.30,136.29 L385.63,136.51 L385.96,136.72 L386.30,136.93 L386.64,137.13 L386.99,137.33 L387.33,137.53 L387.67,137.72 L388.02,137.91 L388.37,138.10 L388.72,138.28 L389.07,138.45 L389.42,138.63 L389.78,138.80 L390.14,138.97 L390.50,139.13 L390.86,139.30 L391.22,139.46 L391.58,139.62 L391.94,139.77 L392.30,139.93 L392.67,140.09 L393.03,140.24 L393.39,140.40 L393.76,140.55 L394.12,140.70 L394.49,140.85 L394.86,141.00 L395.22,141.14 L395.59,141.29 L395.96,141.43 L396.33,141.57 L396.70,141.71 L397.07,141.84 L397.44,141.97 L397.81,142.10 L398.19,142.23 L398.56,142.36 L398.93,142.48 L399.31,142.61 L399.68,142.73 L400.06,142.85 L400.44,142.96 L400.82,143.08 L401.19,143.19 L401.57,143.31 L401.95,143.42 L402.33,143.53 L402.71,143.64 L403.09,143.75 L403.47,143.85 L403.85,143.96 L404.23,144.06 L404.61,144.17 L404.99,144.27 L405.37,144.38 L405.76,144.48 L406.14,144.58 L406.52,144.69 L406.90,144.79 L407.28,144.89 L407.67,144.99 L408.05,145.08 L408.43,145.18 L408.82,145.28 L409.20,145.37 L409.58,145.46 L409.97,145.55 L410.35,145.64 L410.74,145.73 L411.12,145.81 L411.51,145.90 L411.89,145.98 L412.28,146.06 L412.66,146.14 L413.05,146.21 L413.44,146.29 L413.83,146.37 L414.21,146.44 L414.60,146.52 L414.99,146.59 L415.38,146.67 L415.76,146.74 L416.15,146.82 L416.54,146.89 L416.93,146.96 L417.32,147.03 L417.71,147.10 L418.10,147.17 L418.49,147.23 L418.88,147.30 L419.27,147.37 L419.66,147.43 L420.05,147.49 L420.44,147.56 L420.83,147.62 L421.22,147.68 L421.61,147.74 L422.00,147.80 L422.39,147.85 L422.78,147.91 L423.17,147.96 L423.56,148.02 L423.95,148.07 L424.34,148.12 L424.74,148.17 L425.13,148.22 L425.52,148.26 L425.91,148.31 L426.30,148.35 L426.69,148.40 L427.09,148.44 L427.48,148.48 L427.87,148.53 L428.26,148.57 L428.65,148.61 L429.05,148.65 L429.44,148.69 L429.83,148.73 L430.23,148.77 L430.62,148.81 L431.01,148.84 L431.40,148.88 L431.80,148.92 L432.19,148.95 L432.58,148.99 L432.98,149.02 L433.37,149.06 L433.77,149.09 L434.16,149.13 L434.55,149.16 L434.95,149.19 L435.34,149.23 L435.73,149.26 L436.13,149.29 L436.52,149.32 L436.92,149.36 L437.31,149.39 L437.70,149.42 L438.10,149.45 L438.49,149.48 L438.88,149.51 L439.28,149.54 L439.67,149.57 L440.06,149.61 L440.46,149.64 L440.85,149.67 L441.25,149.70 L441.64,149.73 L442.03,149.76 L442.43,149.79 L442.82,149.82 L443.21,149.85 L443.61,149.87 L444.00,149.90 L444.40,149.93 L444.79,149.96 L445.18,149.99 L445.58,150.02 L445.97,150.04 L446.36,150.07 L446.76,150.10 L447.15,150.12 L447.55,150.15 L447.94,150.18 L448.33,150.20 L448.73,150.23 L449.12,150.25 L449.52,150.27 L449.91,150.30 L450.30,150.32 L450.70,150.34 L451.09,150.37 L451.49,150.39 L451.88,150.41 L452.28,150.43 L452.67,150.45 L453.06,150.47 L453.46,150.49 L453.85,150.51 L454.25,150.53 L454.64,150.55 L455.04,150.57 L455.43,150.58 L455.82,150.60 L456.22,150.62 L456.61,150.64 L457.01,150.65 L457.40,150.67 L457.80,150.69 L458.19,150.70 L458.58,150.72 L458.98,150.74 L459.37,150.75 L459.77,150.77 L460.16,150.79 L460.56,150.80 L460.95,150.82 L461.35,150.84 L461.74,150.85 L462.14,150.87 L462.53,150.89 L462.92,150.90 L463.32,150.92 L463.71,150.94 L464.11,150.96 L464.50,150.98 L464.90,151.00 L465.29,151.01 L465.68,151.03 L466.08,151.05 L466.47,151.07 L466.87,151.09 L467.26,151.11 L467.66,151.13 L468.05,151.15 L468.44,151.17 L468.84,151.19 L469.23,151.21 L469.63,151.23 L470.02,151.25 L470.42,151.27 L470.81,151.30 L471.20,151.32 L471.60,151.34 L471.99,151.36 L472.39,151.38 L472.78,151.40 L473.18,151.42 L473.57,151.44 L473.96,151.46 L474.36,151.48 L474.75,151.50 L475.15,151.52 L475.54,151.54 L475.94,151.56 L476.33,151.58 L476.72,151.60 L477.12,151.62 L477.51,151.64 L477.91,151.66 L478.30,151.68 L478.70,151.70 L479.09,151.72 L479.48,151.74 L479.88,151.76 L480.27,151.78 L480.67,151.81 L481.06,151.83 L481.46,151.85 L481.85,151.87 L482.24,151.89 L482.64,151.91 L483.03,151.93 L483.43,151.95 L483.82,151.97 L484.22,151.99 L484.61,152.01 L485.00,152.03 L485.40,152.04 L485.79,152.06 L486.19,152.08 L486.58,152.10 L486.98,152.11 L487.37,152.13 L487.76,152.15 L488.16,152.16 L488.55,152.18 L488.95,152.19 L489.34,152.20 L489.74,152.22 L490.13,152.23 L490.53,152.24 L490.92,152.26 L491.32,152.27 L491.71,152.28 L492.10,152.30 L492.50,152.31 L492.89,152.32 L493.29,152.33 L493.68,152.35 L494.08,152.36 L494.47,152.37 L494.87,152.38 L495.26,152.39 L495.66,152.40 L496.05,152.42 L496.44,152.43 L496.84,152.44 L497.23,152.45 L497.63,152.46 L498.02,152.47 L498.42,152.48 L498.81,152.49 L499.21,152.50 L499.60,152.51 L500.00,152.52 L500.39,152.53 L500.79,152.54 L501.18,152.55 L501.58,152.56 L501.97,152.57 L502.37,152.58 L502.76,152.59 L503.15,152.60 L503.55,152.61 L503.94,152.62 L504.34,152.63 L504.73,152.64 L505.13,152.65 L505.52,152.66 L505.92,152.67 L506.31,152.67 L506.71,152.68 L507.10,152.69 L507.50,152.70 L507.89,152.71 L508.29,152.71 L508.68,152.72 L509.08,152.73 L509.47,152.74 L509.86,152.75 L510.26,152.75 L510.65,152.76 L511.05,152.77 L511.44,152.77 L511.84,152.78 L512.23,152.79 L512.63,152.80 L513.02,152.80 L513.42,152.81 L513.81,152.82 L514.21,152.82 L514.60,152.83 L515.00,152.83 L515.39,152.84 L515.79,152.85 L516.18,152.85 L516.58,152.86 L516.97,152.86 L517.36,152.87 L517.76,152.88 L518.15,152.88 L518.55,152.89 L518.94,152.89 L519.34,152.90 L519.73,152.90 L520.13,152.91 L520.52,152.91 L520.92,152.92 L521.31,152.92 L521.71,152.93 L522.10,152.93 L522.50,152.94 L522.89,152.94 L523.29,152.95 L523.68,152.95 L524.08,152.96 L524.47,152.96 L524.86,152.97 L525.26,152.97 L525.65,152.98 L526.05,152.98 L526.44,152.99 L526.84,152.99 L527.23,153.00 L527.63,153.00 L528.02,153.01 L528.42,153.01 L528.81,153.01 L529.21,153.02 L529.60,153.02 L530.00,153.03 L530.39,153.03 L530.79,153.04 L531.18,153.04 L531.58,153.04 L531.97,153.05 L532.37,153.05 L532.76,153.06 L533.16,153.06 L533.55,153.07 L533.94,153.07 L534.34,153.08 L534.73,153.08 L535.13,153.08 L535.52,153.09 L535.92,153.09 L536.31,153.10 L536.71,153.10 L537.10,153.11 L537.50,153.11 L537.89,153.11 L538.29,153.12 L538.68,153.12 L539.08,153.13 L539.47,153.13 L539.87,153.14 L540.26,153.14 L540.66,153.14 L541.05,153.15 L541.45,153.15 L541.84,153.16 L542.23,153.16 L542.63,153.17 L543.02,153.17 L543.42,153.17 L543.81,153.18 L544.21,153.18 L544.60,153.19 L545.00,153.19 L545.39,153.19 L545.79,153.20 L546.18,153.20 L546.58,153.21 L546.97,153.21 L547.37,153.21 L547.76,153.22 L548.16,153.22 L548.55,153.23 L548.95,153.23 L549.34,153.23 L549.74,153.24 L550.13,153.24 L550.52,153.25 L550.92,153.25 L551.31,153.25 L551.71,153.26 L552.10,153.26 L552.50,153.27 L552.89,153.27 L553.29,153.27 L553.68,153.28 L554.08,153.28 L554.47,153.29 L554.87,153.29 L555.26,153.29 L555.66,153.30 L556.05,153.30 L556.45,153.30 L556.84,153.31 L557.24,153.31 L557.63,153.31 L558.03,153.32 L558.42,153.32 L558.81,153.33 L559.21,153.33 L559.60,153.33 L560.00,153.34 L560.39,153.34 L560.79,153.34 L561.18,153.35 L561.58,153.35 L561.97,153.35 L562.37,153.36 L562.76,153.36 L563.16,153.36 L563.55,153.37 L563.95,153.37 L564.34,153.37 L564.74,153.38 L565.13,153.38 L565.53,153.38 L565.92,153.39 L566.32,153.39 L566.71,153.39 L567.11,153.40 L567.50,153.40" fill="none" stroke="#0630f8" stroke-width="2.4" stroke-dasharray="14.7 8.8" stroke-dashoffset="20.0"/>
<g stroke="#1a40ff" stroke-width="1.45" fill="none"><path d="M397.3,150.9 H436.1 M397.3,147.9 V153.9 M436.1,147.9 V153.9"/><path d="M410.6,146.6 V155.4 M407.6,146.6 H413.6 M407.6,155.4 H413.6"/><circle cx="410.6" cy="149.9" r="5.0" stroke-width="1.55"/></g>
<g stroke="#ff0000" stroke-width="1.45" fill="none"><path d="M397.3,150.3 H436.1 M397.3,147.3 V153.3 M436.1,147.3 V153.3"/><path d="M410.6,145.9 V154.4 M407.6,145.9 H413.6 M407.6,154.4 H413.6"/><circle cx="410.6" cy="149.3" r="5.0" stroke-width="1.55"/></g>
<path d="M365.80,159.70 L366.22,159.14 L366.69,158.65 L367.22,158.25 L367.81,157.92 L368.44,157.63 L369.07,157.37 L369.70,157.13 L370.35,156.90 L371.00,156.69 L371.65,156.50 L372.31,156.32 L372.97,156.15 L373.63,156.00 L374.29,155.86 L374.96,155.72 L375.63,155.58 L376.29,155.44 L376.96,155.29 L377.63,155.15 L378.29,155.01 L378.96,154.88 L379.63,154.76 L380.30,154.65 L380.97,154.55 L381.64,154.45 L382.32,154.35 L382.99,154.26 L383.67,154.17 L384.34,154.08 L385.02,154.00 L385.70,153.92 L386.37,153.84 L387.05,153.77 L387.73,153.70 L388.40,153.64 L389.08,153.58 L389.76,153.53 L390.44,153.48 L391.12,153.43 L391.80,153.38 L392.47,153.34 L393.15,153.29 L393.83,153.25 L394.51,153.20 L395.19,153.16 L395.87,153.11 L396.55,153.06 L397.23,153.01 L397.91,152.96 L398.58,152.91 L399.26,152.86 L399.94,152.82 L400.62,152.77 L401.30,152.72 L401.98,152.67 L402.66,152.62 L403.34,152.57 L404.01,152.53 L404.69,152.48 L405.37,152.43 L406.05,152.38 L406.73,152.33 L407.41,152.28 L408.09,152.24 L408.77,152.19 L409.44,152.14 L410.12,152.09 L410.80,152.04 L411.48,151.99 L412.16,151.94 L412.84,151.90 L413.52,151.85 L414.20,151.80 L414.87,151.75 L415.55,151.70 L416.23,151.65 L416.91,151.61 L417.59,151.56 L418.27,151.51 L418.95,151.46 L419.63,151.41 L420.30,151.36 L420.98,151.31 L421.66,151.27 L422.34,151.22 L423.02,151.17 L423.70,151.12 L424.38,151.07 L425.06,151.02 L425.73,150.98 L426.41,150.93 L427.09,150.88 L427.77,150.83 L428.45,150.78 L429.13,150.73 L429.81,150.68 L430.49,150.64 L431.16,150.59 L431.84,150.54 L432.52,150.49 L433.20,150.44 L433.88,150.39 L434.56,150.34 L435.24,150.30 L435.92,150.25 L436.59,150.20 L437.27,150.15 L437.95,150.10 L438.63,150.05 L439.31,150.01 L439.99,149.96 L440.67,149.91 L441.35,149.86 L442.02,149.81 L442.70,149.77 L443.38,149.72 L444.06,149.67 L444.74,149.62 L445.42,149.58 L446.10,149.53 L446.78,149.48 L447.46,149.44 L448.13,149.39 L448.81,149.34 L449.49,149.29 L450.17,149.25 L450.85,149.20 L451.53,149.15 L452.21,149.11 L452.89,149.06 L453.56,149.01 L454.24,148.96 L454.92,148.92 L455.60,148.87 L456.28,148.82 L456.96,148.77 L457.64,148.73 L458.32,148.68 L459.00,148.63 L459.67,148.58 L460.35,148.54 L461.03,148.49 L461.71,148.44 L462.39,148.39 L463.07,148.34 L463.75,148.30 L464.43,148.25 L465.10,148.20 L465.78,148.15 L466.46,148.11 L467.14,148.06 L467.82,148.01 L468.50,147.96 L469.18,147.91 L469.86,147.87 L470.53,147.82 L471.21,147.77 L471.89,147.72 L472.57,147.68 L473.25,147.63 L473.93,147.58 L474.61,147.53 L475.29,147.49 L475.97,147.44 L476.64,147.39 L477.32,147.34 L478.00,147.29 L478.68,147.25 L479.36,147.20 L480.04,147.15 L480.72,147.10 L481.40,147.06 L482.07,147.01 L482.75,146.96 L483.43,146.91 L484.11,146.86 L484.79,146.82 L485.47,146.77 L486.15,146.72 L486.83,146.67 L487.50,146.63 L488.18,146.58 L488.86,146.53 L489.54,146.48 L490.22,146.44 L490.90,146.39 L491.58,146.34 L492.26,146.29 L492.94,146.24 L493.61,146.20 L494.29,146.15 L494.97,146.10 L495.65,146.05 L496.33,146.01 L497.01,145.96 L497.69,145.91 L498.37,145.86 L499.04,145.82 L499.72,145.77 L500.40,145.72 L501.08,145.67 L501.76,145.63 L502.44,145.58 L503.12,145.53 L503.80,145.49 L504.48,145.44 L505.15,145.39 L505.83,145.35 L506.51,145.30 L507.19,145.25 L507.87,145.21 L508.55,145.16 L509.23,145.11 L509.91,145.06 L510.58,145.01 L511.26,144.96 L511.94,144.91 L512.62,144.86 L513.30,144.80 L513.98,144.75 L514.66,144.70 L515.33,144.64 L516.01,144.59 L516.69,144.53 L517.37,144.47 L518.05,144.42 L518.72,144.36 L519.40,144.30 L520.08,144.24 L520.76,144.19 L521.44,144.13 L522.11,144.07 L522.79,144.01 L523.47,143.95 L524.15,143.89 L524.83,143.83 L525.50,143.77 L526.18,143.71 L526.86,143.65 L527.54,143.59 L528.21,143.53 L528.89,143.47 L529.57,143.41 L530.25,143.35 L530.93,143.29 L531.60,143.23 L532.28,143.16 L532.96,143.10 L533.64,143.04 L534.31,142.97 L534.99,142.91 L535.67,142.85 L536.35,142.78 L537.02,142.72 L537.70,142.65 L538.38,142.59 L539.06,142.52 L539.73,142.45 L540.41,142.39 L541.09,142.32 L541.76,142.25 L542.44,142.19 L543.12,142.12 L543.80,142.05 L544.47,141.99 L545.15,141.92 L545.83,141.86 L546.50,141.79 L547.18,141.72 L547.86,141.66 L548.54,141.59 L549.21,141.52 L549.89,141.46 L550.57,141.39 L551.25,141.33 L551.92,141.26 L552.60,141.19 L553.28,141.13 L553.95,141.06 L554.63,141.00 L555.31,140.93 L555.99,140.86 L556.66,140.80 L557.34,140.73 L558.02,140.67 L558.70,140.60 L559.37,140.53 L560.05,140.47 L560.73,140.40 L561.40,140.34 L562.08,140.27 L562.76,140.20 L563.44,140.14 L564.11,140.07 L564.79,140.01 L565.47,139.94 L566.15,139.87 L566.82,139.81 L567.50,139.74" fill="none" stroke="#ff0000" stroke-width="2.4" stroke-dasharray="14.7 8.7" stroke-dashoffset="-1.0"/>
<path d="M365.80,159.70 L366.22,159.14 L366.69,158.65 L367.21,158.25 L367.80,157.92 L368.43,157.63 L369.07,157.37 L369.70,157.13 L370.34,156.90 L370.99,156.69 L371.64,156.50 L372.30,156.32 L372.95,156.16 L373.62,156.00 L374.28,155.86 L374.95,155.72 L375.61,155.58 L376.28,155.44 L376.94,155.29 L377.61,155.14 L378.27,155.00 L378.94,154.87 L379.61,154.76 L380.28,154.66 L380.95,154.58 L381.63,154.51 L382.30,154.44 L382.98,154.37 L383.65,154.31 L384.33,154.25 L385.01,154.19 L385.69,154.14 L386.37,154.09 L387.05,154.04 L387.73,153.99 L388.40,153.94 L389.08,153.90 L389.76,153.85 L390.44,153.81 L391.12,153.77 L391.79,153.73 L392.47,153.69 L393.15,153.65 L393.83,153.61 L394.51,153.57 L395.19,153.53 L395.86,153.48 L396.54,153.44 L397.22,153.40 L397.90,153.36 L398.58,153.32 L399.26,153.27 L399.93,153.23 L400.61,153.19 L401.29,153.15 L401.97,153.11 L402.65,153.07 L403.33,153.02 L404.00,152.98 L404.68,152.94 L405.36,152.90 L406.04,152.86 L406.72,152.81 L407.40,152.77 L408.07,152.73 L408.75,152.69 L409.43,152.65 L410.11,152.60 L410.79,152.56 L411.46,152.52 L412.14,152.48 L412.82,152.44 L413.50,152.40 L414.18,152.35 L414.86,152.31 L415.53,152.27 L416.21,152.23 L416.89,152.19 L417.57,152.14 L418.25,152.10 L418.93,152.06 L419.60,152.02 L420.28,151.98 L420.96,151.94 L421.64,151.89 L422.32,151.85 L423.00,151.81 L423.67,151.77 L424.35,151.73 L425.03,151.68 L425.71,151.64 L426.39,151.60 L427.06,151.56 L427.74,151.52 L428.42,151.47 L429.10,151.43 L429.78,151.39 L430.46,151.35 L431.13,151.31 L431.81,151.26 L432.49,151.22 L433.17,151.18 L433.85,151.14 L434.53,151.10 L435.20,151.05 L435.88,151.01 L436.56,150.97 L437.24,150.93 L437.92,150.89 L438.60,150.85 L439.27,150.80 L439.95,150.76 L440.63,150.72 L441.31,150.68 L441.99,150.64 L442.66,150.60 L443.34,150.56 L444.02,150.52 L444.70,150.48 L445.38,150.44 L446.06,150.40 L446.73,150.36 L447.41,150.32 L448.09,150.28 L448.77,150.24 L449.45,150.20 L450.13,150.16 L450.81,150.12 L451.48,150.08 L452.16,150.04 L452.84,150.00 L453.52,149.95 L454.20,149.91 L454.88,149.87 L455.55,149.83 L456.23,149.79 L456.91,149.75 L457.59,149.71 L458.27,149.67 L458.95,149.63 L459.62,149.59 L460.30,149.55 L460.98,149.51 L461.66,149.47 L462.34,149.43 L463.02,149.39 L463.69,149.35 L464.37,149.31 L465.05,149.27 L465.73,149.23 L466.41,149.19 L467.09,149.15 L467.76,149.11 L468.44,149.07 L469.12,149.03 L469.80,148.99 L470.48,148.95 L471.16,148.91 L471.83,148.87 L472.51,148.83 L473.19,148.79 L473.87,148.75 L474.55,148.71 L475.23,148.67 L475.90,148.63 L476.58,148.59 L477.26,148.55 L477.94,148.51 L478.62,148.47 L479.30,148.43 L479.98,148.39 L480.65,148.35 L481.33,148.31 L482.01,148.27 L482.69,148.23 L483.37,148.19 L484.05,148.15 L484.72,148.11 L485.40,148.07 L486.08,148.03 L486.76,147.99 L487.44,147.95 L488.12,147.91 L488.79,147.87 L489.47,147.83 L490.15,147.79 L490.83,147.75 L491.51,147.71 L492.19,147.67 L492.86,147.63 L493.54,147.59 L494.22,147.55 L494.90,147.51 L495.58,147.47 L496.26,147.43 L496.93,147.39 L497.61,147.35 L498.29,147.31 L498.97,147.27 L499.65,147.23 L500.33,147.19 L501.00,147.15 L501.68,147.11 L502.36,147.07 L503.04,147.03 L503.72,146.99 L504.40,146.95 L505.07,146.91 L505.75,146.87 L506.43,146.83 L507.11,146.79 L507.79,146.75 L508.47,146.71 L509.15,146.67 L509.82,146.63 L510.50,146.59 L511.18,146.55 L511.86,146.51 L512.54,146.48 L513.22,146.44 L513.89,146.40 L514.57,146.37 L515.25,146.33 L515.93,146.29 L516.61,146.26 L517.29,146.22 L517.97,146.19 L518.64,146.15 L519.32,146.12 L520.00,146.08 L520.68,146.05 L521.36,146.01 L522.04,145.98 L522.72,145.94 L523.40,145.90 L524.07,145.87 L524.75,145.83 L525.43,145.79 L526.11,145.75 L526.79,145.71 L527.47,145.67 L528.14,145.62 L528.82,145.58 L529.50,145.54 L530.18,145.50 L530.86,145.46 L531.54,145.41 L532.21,145.37 L532.89,145.33 L533.57,145.29 L534.25,145.25 L534.93,145.21 L535.61,145.18 L536.28,145.14 L536.96,145.10 L537.64,145.07 L538.32,145.03 L539.00,144.99 L539.68,144.96 L540.36,144.92 L541.03,144.89 L541.71,144.85 L542.39,144.82 L543.07,144.78 L543.75,144.75 L544.43,144.71 L545.11,144.68 L545.78,144.64 L546.46,144.60 L547.14,144.57 L547.82,144.53 L548.50,144.50 L549.18,144.46 L549.86,144.43 L550.53,144.39 L551.21,144.35 L551.89,144.32 L552.57,144.28 L553.25,144.25 L553.93,144.21 L554.61,144.17 L555.29,144.14 L555.96,144.10 L556.64,144.07 L557.32,144.03 L558.00,143.99 L558.68,143.96 L559.36,143.92 L560.04,143.89 L560.71,143.85 L561.39,143.82 L562.07,143.78 L562.75,143.74 L563.43,143.71 L564.11,143.67 L564.79,143.64 L565.46,143.60 L566.14,143.56 L566.82,143.53 L567.50,143.49" fill="none" stroke="#ff0000" stroke-width="2.4" stroke-dasharray="14.7 8.7" stroke-dashoffset="-1.0"/>
<g stroke="#1a40ff" stroke-width="1.45" fill="none"><path d="M408.9,141.3 H420.0 M408.9,138.3 V144.3 M420.0,138.3 V144.3"/><path d="M413.7,125.8 V144.3 M410.7,125.8 H416.7 M410.7,144.3 H416.7"/><circle cx="413.7" cy="140.10000000000002" r="5.0" stroke-width="1.55"/></g>
<g stroke="#1a40ff" stroke-width="1.45" fill="none"><circle cx="415.8" cy="140.70000000000002" r="5.0" stroke-width="1.55"/></g>
<g stroke="#1a40ff" stroke-width="1.45" fill="none"><path d="M407.6,148.5 H466.5 M407.6,145.5 V151.5 M466.5,145.5 V151.5"/><path d="M423.8,136.9 V160.9 M420.8,136.9 H426.8 M420.8,160.9 H426.8"/><circle cx="423.8" cy="147.20000000000002" r="5.0" stroke-width="1.55"/></g>
</g>
<path d="M365.2,33.05 H566.7 V160.2 H365.2 Z M365.2,160.2 v-3 M365.2,33.05 v3 M465.9,160.2 v-3 M465.9,33.05 v3 M566.7,160.2 v-3 M566.7,33.05 v3 M365.2,160.20 h3 M566.7,160.20 h-3 M365.2,117.82 h3 M566.7,117.82 h-3 M365.2,75.44 h3 M566.7,75.44 h-3 M365.2,33.06 h3 M566.7,33.06 h-3" fill="none" stroke="#000" stroke-width="1.3"/>
<text x="365.2" y="183" font-size="18.9" text-anchor="middle" font-family="Liberation Serif, serif" font-weight="bold" fill="#000" stroke="#000" stroke-width="0.3">0</text>
<text x="465.9" y="183" font-size="18.9" text-anchor="middle" font-family="Liberation Serif, serif" font-weight="bold" fill="#000" stroke="#000" stroke-width="0.3">1</text>
<text x="566.7" y="183" font-size="18.9" text-anchor="middle" font-family="Liberation Serif, serif" font-weight="bold" fill="#000" stroke="#000" stroke-width="0.3">2</text>
<text x="360.7" y="166.90" font-size="18.9" text-anchor="end" font-family="Liberation Serif, serif" font-weight="bold" fill="#000" stroke="#000" stroke-width="0.3">0</text>
<text x="360.7" y="124.52" font-size="18.9" text-anchor="end" font-family="Liberation Serif, serif" font-weight="bold" fill="#000" stroke="#000" stroke-width="0.3">2</text>
<text x="360.7" y="82.14" font-size="18.9" text-anchor="end" font-family="Liberation Serif, serif" font-weight="bold" fill="#000" stroke="#000" stroke-width="0.3">4</text>
<text x="360.7" y="39.76" font-size="18.9" text-anchor="end" font-family="Liberation Serif, serif" font-weight="bold" fill="#000" stroke="#000" stroke-width="0.3">6</text>
<text x="484.0" y="108.9" font-size="18.6" font-family="Liberation Serif, serif" font-weight="bold" fill="#000" stroke="#000" stroke-width="0.3">ff</text><text x="496.7" y="117.80000000000001" font-size="14.8" font-family="Liberation Serif, serif" font-weight="bold" fill="#000" stroke="#000" stroke-width="0.3">u</text><text x="510.2" y="108.9" font-size="18.6" font-family="Liberation Serif, serif" font-weight="bold" fill="#000" stroke="#000" stroke-width="0.3">=</text><text x="526.2" y="108.9" font-size="18.6" letter-spacing="0.35" font-family="Liberation Serif, serif" font-weight="bold" fill="#000" stroke="#000" stroke-width="0.3">0.01</text>
<text x="482.8" y="140.5" font-size="18.6" font-family="Liberation Serif, serif" font-weight="bold" fill="#000" stroke="#000" stroke-width="0.3">ff</text><text x="495.9" y="149.4" font-size="14.8" font-family="Liberation Serif, serif" font-weight="bold" fill="#000" stroke="#000" stroke-width="0.3">u</text><text x="508.7" y="140.5" font-size="18.6" font-family="Liberation Serif, serif" font-weight="bold" fill="#000" stroke="#000" stroke-width="0.3">=</text><text x="525.0" y="140.5" font-size="18.6" letter-spacing="0.35" font-family="Liberation Serif, serif" font-weight="bold" fill="#000" stroke="#000" stroke-width="0.3">0.34</text>
</svg>
</body></html>
